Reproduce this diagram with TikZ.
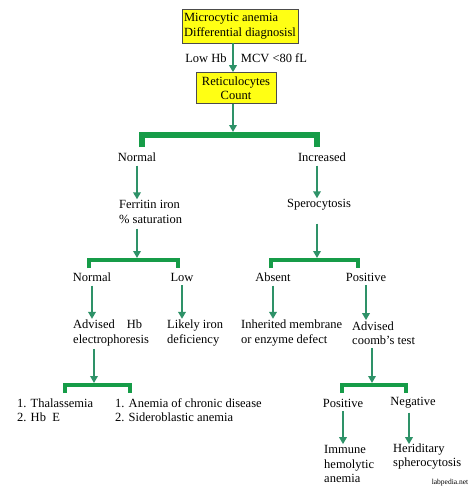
\documentclass[tikz,border=0pt]{standalone}
\usepackage{fontspec}
\setmainfont{Liberation Serif}
\usetikzlibrary{arrows.meta}
\definecolor{arrowgreen}{RGB}{46,146,104}
\definecolor{bargreen}{RGB}{22,156,72}
\definecolor{boxyellow}{RGB}{255,255,20}

\begin{document}
\begin{tikzpicture}
  [x=1pt, y=-1pt,
   every node/.style={inner sep=1pt, font=\fontsize{12.5}{14.5}\selectfont},
   box/.style={fill=boxyellow, draw=black!70, line width=0.6pt},
   txt/.style={align=left, anchor=west},
   arr/.style={draw=arrowgreen, line width=1.8pt, -{Triangle[width=7.5pt,length=7pt]}},
   brk/.style={draw=bargreen, line width=4pt},
   bigbrk/.style={draw=bargreen, line width=6pt}]
  \useasboundingbox (0,0) rectangle (474,492);

  % top of the chart
  \node[box, align=left, minimum width=116pt, minimum height=34pt] (micro) at (240,26)
    {Microcytic anemia\\Differential diagnosisl};
  \node (lowhb) at (206,58) {Low Hb};
  \node (mcv) at (274,58) {MCV <80 fL};
  \node[box, align=center, minimum width=80pt, minimum height=31pt] (retic) at (236,88)
    {Reticulocytes\\Count};
  \draw[arr] ([xshift=-7pt]micro.south) -- ([xshift=-3pt]retic.north);

  \coordinate (b0) at (233,135);
  \coordinate (b0l) at (142,147);
  \coordinate (b0r) at (317,147);
  \draw[bigbrk] (b0l) |- (b0) -| (b0r);
  \draw[arr] ([xshift=-3pt]retic.south) -- ([yshift=3pt]b0);

  % normal count
  \node (norm) at (137,157) {Normal};
  \node[txt] (ferr) at (118,212) {Ferritin iron\\\% saturation};
  \draw[arr] ([yshift=-3pt]norm.south) -- (norm.south |- ferr.north);
  \coordinate (b1) at (137,260);
  \coordinate (b1l) at (89,268);
  \coordinate (b1r) at (178,268);
  \draw[brk] (b1l) |- (b1) -| (b1r);
  \draw[arr] ([yshift=-4pt]ferr.south -| b1) -- ([yshift=2pt]b1);

  \node (norm2) at (92,277) {Normal};
  \node (low) at (182,277) {Low};
  \node[txt] (hbelec) at (72,333) {Advised\hspace{12pt}Hb\\electrophoresis};
  \node[txt] (iron) at (166,333) {Likely iron\\deficiency};
  \draw[arr] ([yshift=-3pt]norm2.south) -- (norm2.south |- hbelec.north);
  \draw[arr] ([yshift=-3pt]low.south) -- (low.south |- iron.north);

  \coordinate (b2) at (94,385);
  \coordinate (b2l) at (65,393);
  \coordinate (b2r) at (130,393);
  \draw[brk] (b2l) |- (b2) -| (b2r);
  \draw[arr] ([yshift=-2pt]hbelec.south -| b2) -- ([yshift=2pt]b2);
  \node[txt] (thal) at (16,410) {1. Thalassemia\\2. Hb\ \ E};
  \node[txt] (chronic) at (114,410) {1. Anemia of chronic disease\\2. Sideroblastic anemia};

  % increased count
  \node (incr) at (322,157) {Increased};
  \node (spero) at (319,205) {Sperocytosis};
  \draw[arr] ([xshift=-5pt,yshift=-3pt]incr.south) -- ([xshift=-2pt]spero.north);
  \coordinate (b3) at (317,260);
  \coordinate (b3l) at (271,268);
  \coordinate (b3r) at (358,268);
  \draw[brk] (b3l) |- (b3) -| (b3r);
  \draw[arr] ([yshift=-12pt]spero.south -| b3) -- ([yshift=2pt]b3);

  \node (absent) at (273,277) {Absent};
  \node (pos) at (366,277) {Positive};
  \node[txt] (inher) at (240,333) {Inherited membrane\\or enzyme defect};
  \node[txt] (coomb) at (351,333) {Advised\\coomb’s test};
  \draw[arr] ([yshift=-3pt]absent.south) -- (absent.south |- inher.north);
  \draw[arr] ([yshift=-3pt]pos.south) -- (pos.south |- coomb.north);

  \coordinate (b4) at (372,385);
  \coordinate (b4l) at (342,393);
  \coordinate (b4r) at (406,393);
  \draw[brk] (b4l) |- (b4) -| (b4r);
  \draw[arr] ([yshift=-2pt]coomb.south -| b4) -- ([yshift=2pt]b4);

  \node (pos2) at (343,403) {Positive};
  \node (neg) at (413,403) {Negative};
  \node[txt] (immune) at (323,464) {Immune\\hemolytic\\anemia};
  \node[txt] (hered) at (392,456.5) {Heriditary\\spherocytosis};
  \draw[arr] ([yshift=-3pt]pos2.south) -- (pos2.south |- immune.north);
  \draw[arr] ([xshift=-4pt,yshift=-3pt]neg.south) -- ([xshift=-4pt]neg.south |- immune.north);

  \node[font=\fontsize{7.5}{9}\selectfont] (src) at (450,483) {labpedia.net};
\end{tikzpicture}
\end{document}
